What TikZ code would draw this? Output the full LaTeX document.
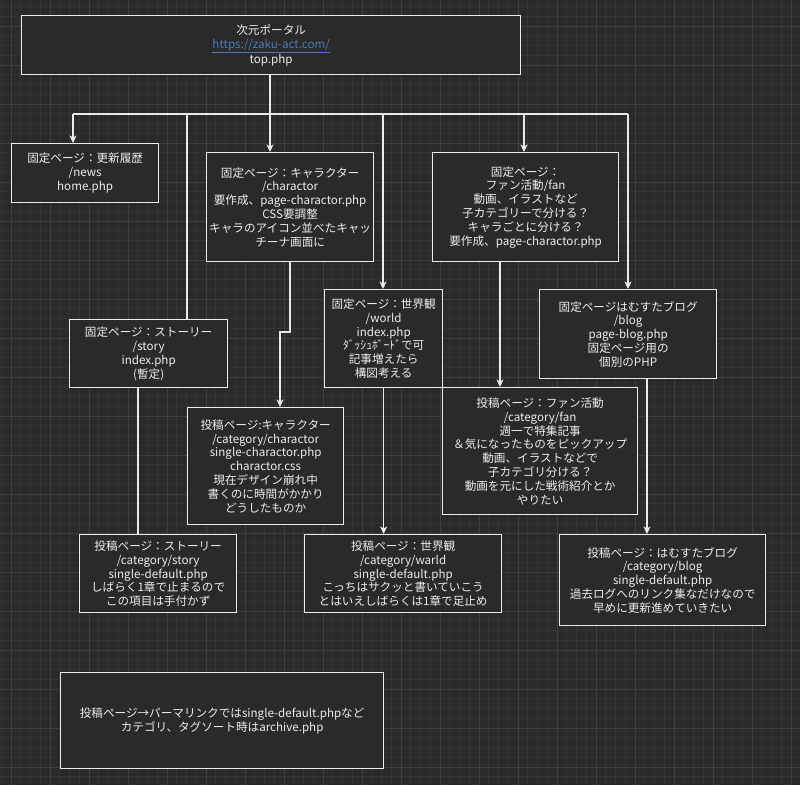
\documentclass[tikz,border=0pt]{standalone}
\usepackage{fontspec}
\setmainfont{Noto Sans CJK JP}
\usetikzlibrary{arrows.meta}
\definecolor{bg}{HTML}{2A2A2A}
\definecolor{gminorc}{HTML}{333333}
\definecolor{gmajorc}{HTML}{3F3F3F}
\definecolor{boxfill}{HTML}{2A2A2A}
\definecolor{boxline}{HTML}{EAEAEA}
\definecolor{txt}{HTML}{EEEEEE}
\definecolor{link}{HTML}{4A7DBA}
\tikzset{
  box/.style={draw=boxline, fill=boxfill, line width=1.3pt, text=txt, align=center,
    inner sep=0pt, anchor=north west,
    font=\fontsize{11.6}{13.8}\selectfont},
  conn/.style={draw=boxline, line width=1.2pt},
  arr/.style={conn, -{Stealth[length=7.5pt,width=7pt,inset=2pt]}},
  gminor/.style={draw=gminorc, line width=0.6pt},
  gmajor/.style={draw=gmajorc, line width=0.8pt}
}
\begin{document}
\begin{tikzpicture}[x=1pt,y=-1pt]
\useasboundingbox (0,0) rectangle (800,785);
\fill[bg] (0,0) rectangle (800,785);
\begin{scope}
\clip (0,0) rectangle (800,785);
\foreach \k in {-2,...,84} \draw[gminor] ({11+9.75*\k},0) -- ({11+9.75*\k},785);
\foreach \k in {-3,...,80} \draw[gminor] (0,{26+9.75*\k}) -- (800,{26+9.75*\k});
\foreach \k in {0,...,21} \draw[gmajor] ({11+39*\k},0) -- ({11+39*\k},785);
\foreach \k in {-1,...,20} \draw[gmajor] (0,{26+39*\k}) -- (800,{26+39*\k});
\end{scope}

% boxes
\node[box, minimum width=499, minimum height=59] (top) at (21,15)
  {次元ポータル\\{\color{link}\underline{https://zaku-act.com/}}\\top.php};
\node[box, minimum width=147, minimum height=59] (news) at (11,143)
  {固定ページ：更新履歴\\/news\\home.php};
\node[box, minimum width=167, minimum height=109] (charP) at (206,152)
  {固定ページ：キャラクター\\/charactor\\要作成、page-charactor.php\\CSS要調整\\キャラのアイコン並べたキャッ\\チーナ画面に};
\node[box, minimum width=186, minimum height=109] (fanP) at (432,152)
  {固定ページ：\\ファン活動/fan\\動画、イラストなど\\子カテゴリーで分ける？\\キャラごとに分ける？\\要作成、page-charactor.php};
\node[box, minimum width=118, minimum height=98] (world) at (324,289)
  {固定ページ：世界観\\/world\\index.php\\ﾀﾞｯｼｭﾎﾞｰﾄﾞで可\\記事増えたら\\構図考える};
\node[box, minimum width=177, minimum height=89] (blog) at (539,289)
  {固定ページはむすたブログ\\/blog\\page-blog.php\\固定ページ用の\\個別のPHP};
\node[box, minimum width=158, minimum height=68] (story) at (69,319)
  {固定ページ：ストーリー\\/story\\index.php\\(暫定)};
\node[box, minimum width=156, minimum height=117] (charPost) at (187,407)
  {投稿ページ:キャラクター\\/category/charactor\\single-charactor.php\\charactor.css\\現在デザイン崩れ中\\書くのに時間がかかり\\どうしたものか};
\node[box, minimum width=195, minimum height=127] (fanPost) at (442,387)
  {投稿ページ：ファン活動\\/category/fan\\週一で特集記事\\＆気になったものをピックアップ\\動画、イラストなどで\\子カテゴリ分ける？\\動画を元にした戦術紹介とか\\やりたい};
\node[box, minimum width=157, minimum height=78] (storyPost) at (79,534)
  {投稿ページ：ストーリー\\/category/story\\single-default.php\\しばらく1章で止まるので\\この項目は手付かず};
\node[box, minimum width=197, minimum height=78] (worldPost) at (304,534)
  {投稿ページ：世界観\\/category/warld\\single-default.php\\こっちはサクッと書いていこう\\とはいえしばらくは1章で足止め};
\node[box, minimum width=206, minimum height=91] (blogPost) at (559,534)
  {投稿ページ：はむすたブログ\\/category/blog\\single-default.php\\過去ログへのリンク集なだけなので\\早めに更新進めていきたい};
\node[box, minimum width=323, minimum height=96] (note) at (60,672)
  {投稿ページ→パーマリンクではsingle-default.phpなど\\カテゴリ、タグソート時はarchive.php};

% bus
\coordinate (b1) at (73,114);
\coordinate (b2) at (187,114);
\coordinate (b3) at (270,114);
\coordinate (b4) at (383,114);
\coordinate (b5) at (524,114);
\coordinate (b6) at (628,114);
\draw[conn] (b3 |- top.south) -- (b3);
\draw[conn] (b1) -- (b6);
\draw[arr] (b1) -- (b1 |- news.north);
\draw[conn] (b2) -- (b2 |- story.north);
\draw[arr] (b3) -- (b3 |- charP.north);
\draw[arr] (b4) -- (b4 |- world.north);
\draw[arr] (b5) -- (b5 |- fanP.north);
\draw[arr] (b6) -- (b6 |- blog.north);

% lower connectors
\coordinate (cx1) at (290,332);
\coordinate (cx2) at (280,332);
\draw[arr] (charP.south -| cx1) -- (cx1) -- (cx2) -- (cx2 |- charPost.north);
\coordinate (fx) at (500,0);
\draw[arr] (fanP.south -| fx) -- (fx |- fanPost.north);
\draw[arr] (world.south) -- (world.south |- worldPost.north);
\coordinate (bx) at (647,0);
\draw[arr] (blog.south -| bx) -- (bx |- blogPost.north);
\coordinate (sx) at (138,0);
\draw[conn] (story.south -| sx) -- (sx |- storyPost.north);
\end{tikzpicture}
\end{document}
